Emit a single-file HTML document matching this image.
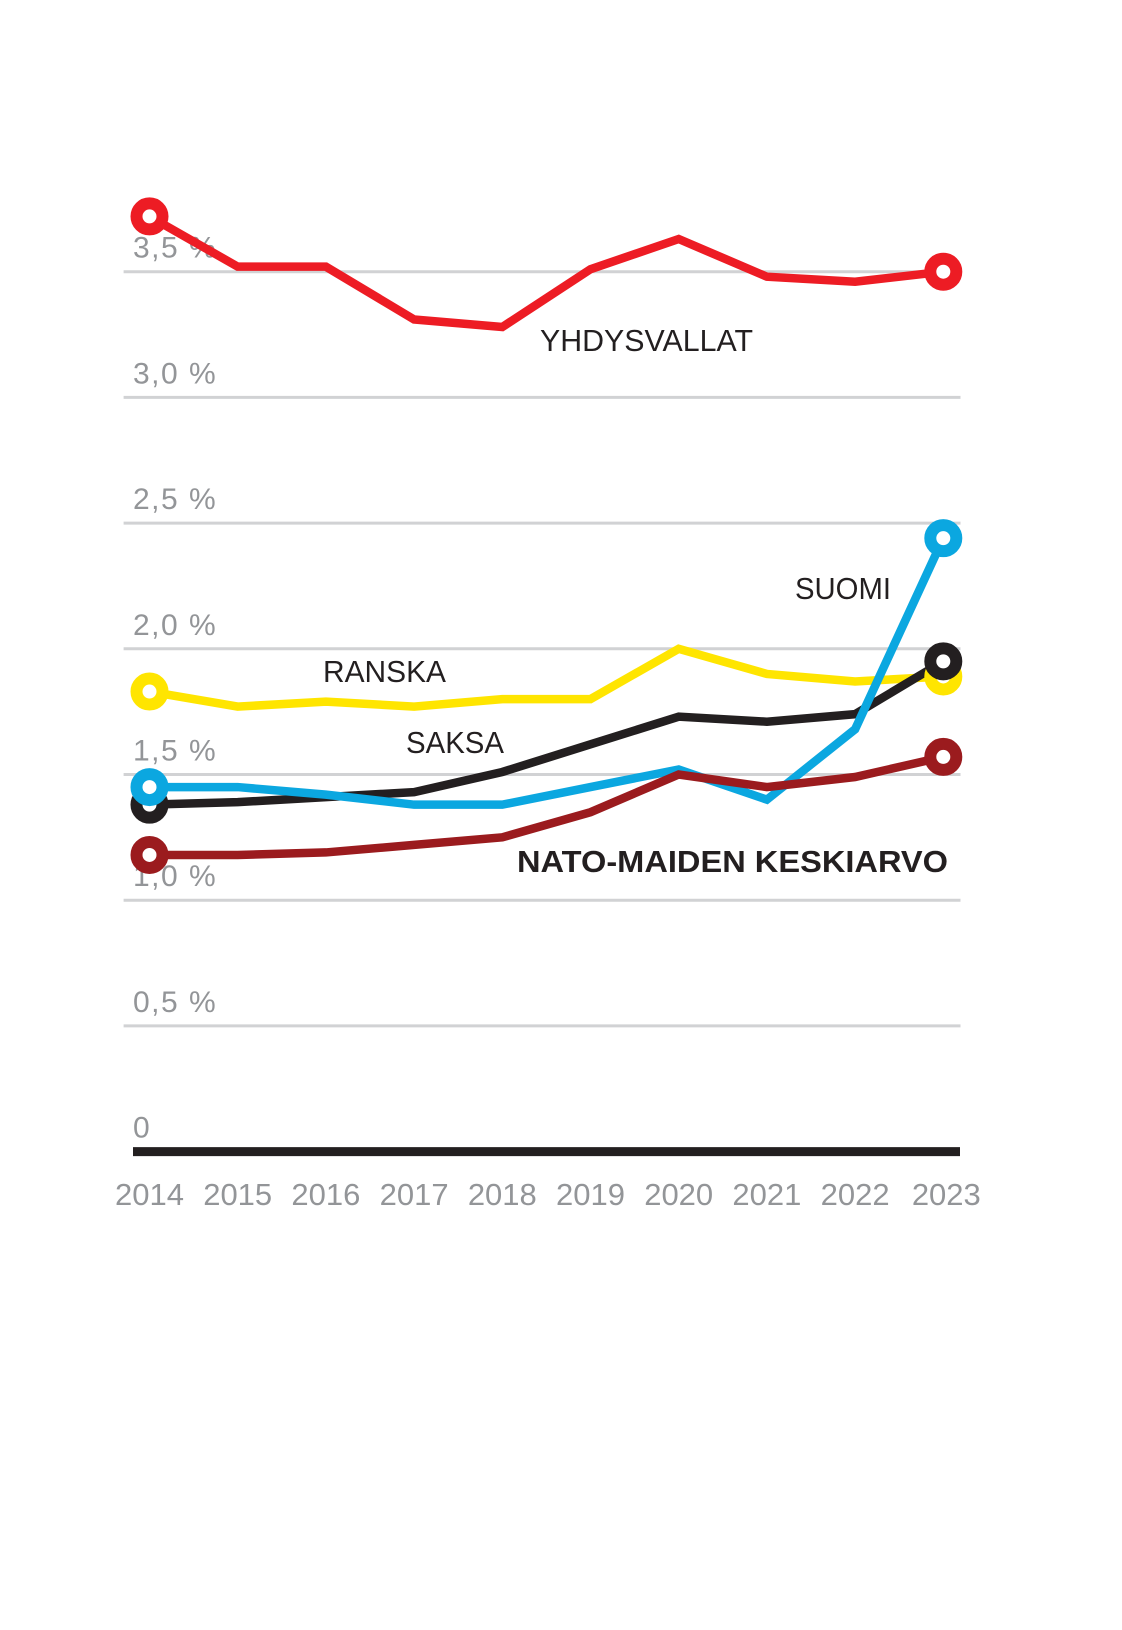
<!DOCTYPE html>
<html><head><meta charset="utf-8"><style>
body{margin:0;background:#fff;}
svg{display:block;font-family:"Liberation Sans",sans-serif;}
</style></head><body>
<svg id="chart" width="1122" height="1630" viewBox="0 0 1122 1630"></svg>
<script>
const years=[2014,2015,2016,2017,2018,2019,2020,2021,2022,2023];
const yTicks=[0,0.5,1,1.5,2,2.5,3,3.5];
const yTickLabels=["0","0,5 %","1,0 %","1,5 %","2,0 %","2,5 %","3,0 %","3,5 %"];
const usa=[3.72,3.52,3.52,3.31,3.28,3.51,3.63,3.48,3.46,3.50];
const france=[1.83,1.77,1.79,1.77,1.80,1.80,2.00,1.90,1.87,1.89];
const germany=[1.38,1.39,1.41,1.43,1.51,1.62,1.73,1.71,1.74,1.95];
const finland=[1.45,1.45,1.42,1.38,1.38,1.45,1.52,1.40,1.68,2.44];
const nato=[1.18,1.18,1.19,1.22,1.25,1.35,1.50,1.45,1.49,1.57];

const NS="http://www.w3.org/2000/svg";
const svg=document.getElementById('chart');
const x=i=>149.5+i*88.2;
const y=v=>1151.6-v*251.4;
function mk(tag,attrs,parent){const e=document.createElementNS(NS,tag);for(const k in attrs)e.setAttribute(k,attrs[k]);(parent||svg).appendChild(e);return e;}

yTicks.forEach((t,i)=>{
  if(t!==0){
    const g=mk('line',{x1:123.6,x2:960.5,y1:y(t),y2:y(t),stroke:'#d1d2d4','stroke-width':3});
    
    
  }
  const l=mk('text',{x:133,y:y(t)-14,fill:'#939598','font-size':30,'letter-spacing':1.5});
  l.textContent=yTickLabels[i];
  
  
});
const base=mk('line',{x1:133,x2:960,y1:y(0),y2:y(0),stroke:'#231f20','stroke-width':9});


years.forEach((yr,i)=>{
  const t=mk('text',{x:x(i)+(i===9?3:0),y:1205,fill:'#939598','font-size':31,'text-anchor':'middle'});
  t.textContent=yr;
  
  
});

const series=[
  {d:france,c:'#ffe500',n:'ranska'},
  {d:germany,c:'#231f20',n:'saksa'},
  {d:finland,c:'#0ba7e0',n:'suomi'},
  {d:nato,c:'#9b1b1e',n:'nato-keskiarvo'},
  {d:usa,c:'#ed1c24',n:'yhdysvallat'}
];
series.forEach(s=>{
  const p=mk('polyline',{points:s.d.map((v,i)=>x(i)+','+y(v)).join(' '),fill:'none',stroke:s.c,'stroke-width':8.5,'stroke-linejoin':'miter'});
  
  
});
series.forEach(s=>{
  [0,s.d.length-1].forEach(i=>{
    const c=mk('circle',{cx:x(i),cy:y(s.d[i]),r:13,fill:'#fff',stroke:s.c,'stroke-width':12});
    
    
  });
});

const labels=[
  {t:'YHDYSVALLAT',x:540,y:351,w:213,b:false},
  {t:'SUOMI',x:795,y:599,w:96,b:false},
  {t:'RANSKA',x:323,y:682,w:123,b:false},
  {t:'SAKSA',x:406,y:753,w:98,b:false},
  {t:'NATO-MAIDEN KESKIARVO',x:517,y:872,w:431,b:true}
];
labels.forEach(l=>{
  const t=mk('text',{x:l.x,y:l.y,fill:'#231f20','font-size':31,'font-weight':l.b?'bold':'normal',textLength:l.w,lengthAdjust:'spacingAndGlyphs'});
  t.textContent=l.t;
  
  
});
</script>
</body></html>
